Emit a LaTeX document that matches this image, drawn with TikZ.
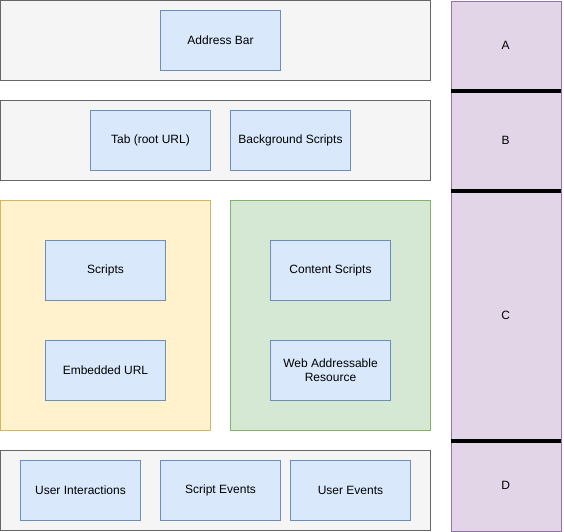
\documentclass[tikz,border=0pt]{standalone}
\usepackage{fontspec}
\setmainfont{Liberation Sans}
\usetikzlibrary{positioning}

\definecolor{panelfill}{HTML}{F5F5F5}
\definecolor{panelline}{HTML}{666666}
\definecolor{itemfill}{HTML}{DAE8FC}
\definecolor{itemline}{HTML}{6C8EBF}
\definecolor{yelfill}{HTML}{FFF2CC}
\definecolor{yelline}{HTML}{D6B656}
\definecolor{grnfill}{HTML}{D5E8D4}
\definecolor{grnline}{HTML}{82B366}
\definecolor{purfill}{HTML}{E1D5E7}
\definecolor{purline}{HTML}{9673A6}

\begin{document}
\begin{tikzpicture}[x=1pt,y=-1pt,
			font=\fontsize{12}{14}\selectfont,
			item node/.style={rectangle,draw=itemline,fill=itemfill,minimum width=120pt,minimum height=60pt,align=center,inner sep=2pt},
			panel/.style={draw=panelline,fill=panelfill},
			level node/.style={rectangle,draw=purline,fill=purfill,minimum width=110pt,anchor=north west,inner sep=0pt},
			divider/.style={line width=4pt,black}
			]

			\useasboundingbox (0,0) rectangle (564,531);

			% layers
			\draw[panel] (0.5,0.5) rectangle (430.5,80.5);
			\draw[panel] (0.5,100.5) rectangle (430.5,180.5);
			\draw[draw=yelline,fill=yelfill] (0.5,200.5) rectangle (210.5,430.5);
			\draw[draw=grnline,fill=grnfill] (230.5,200.5) rectangle (430.5,430.5);
			\draw[panel] (0.5,450.5) rectangle (430.5,530.5);

			\node[item node] at (220.5,40.5) (addr) {Address Bar};
			\node[item node] at (150.5,140.5) (tab) {Tab (root URL)};
			\node[item node] at (290.5,140.5) (bg) {Background Scripts};
			\node[item node] at (105.5,270.5) (scripts) {Scripts};
			\node[item node] at (105.5,370.5) (embed) {Embedded URL};
			\node[item node] at (330.5,270.5) (content) {Content Scripts};
			\node[item node] at (330.5,370.5) (web) {Web Addressable\\Resource};
			\node[item node] at (80.5,490.5) (ui) {User Interactions};
			\node[item node] at (220.5,490.5) (se) {Script Events};
			\node[item node] at (350.5,490.5) (ue) {User Events};

			% levels
			\node[level node,minimum height=90pt] at (450.5,0.5) (A) {A};
			\node[level node,minimum height=100pt] at (450.5,90.5) (B) {B};
			\node[level node,minimum height=250pt] at (450.5,190.5) (C) {C};
			\node[level node,minimum height=90pt] at (450.5,440.5) (D) {D};

			\draw[divider] (A.south west) -- (A.south east);
			\draw[divider] (B.south west) -- (B.south east);
			\draw[divider] (C.south west) -- (C.south east);
		\end{tikzpicture}
\end{document}
